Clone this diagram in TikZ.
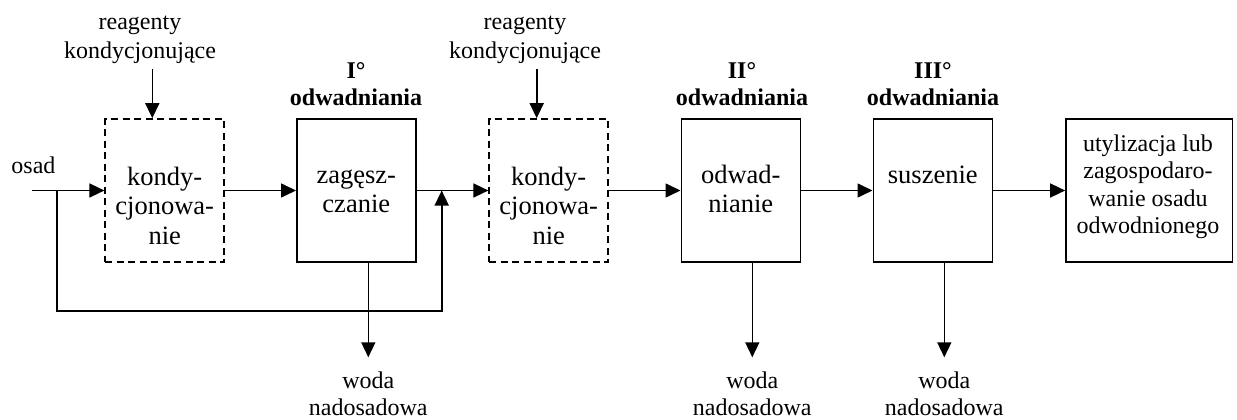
\documentclass[tikz,border=0pt]{standalone}
\usepackage{fontspec}
\setmainfont{Liberation Serif}
\usetikzlibrary{arrows.meta}
\begin{document}
\begin{tikzpicture}[x=1pt,y=-1pt,
  line width=1.6pt,
  flow/.style={-{Triangle[length=15pt,width=14pt]}},
  stage/.style={draw, minimum width=119pt, minimum height=143pt, inner sep=0pt},
  prep/.style={stage, dash pattern=on 7pt off 4.5pt},
  % multi-line nodes below are placed by the baseline of their last line
  big/.style={font=\fontsize{26.5}{29.5}\selectfont, align=center, anchor=base, inner sep=0pt},
  small/.style={font=\fontsize{24}{28}\selectfont, align=center, anchor=base, inner sep=0pt},
  head/.style={small, font=\fontsize{24}{27}\selectfont\bfseries}
]
\useasboundingbox (0,0) rectangle (1237,420);

% process stages
\node[prep]  (k1) at (164.7,190.5) {};
\node[stage] (z)  at (356.3,190.5) {};
\node[prep]  (k2) at (548.7,190.5) {};
\node[stage] (o)  at (740.8,190.5) {};
\node[stage] (s)  at (932.8,190.5) {};
\node[stage, minimum width=166.5pt] (u) at (1149.2,190.5) {};

% texts inside the stages
\node[big] (k1t) at (164.7,244) {kondy-\\cjonowa-\\nie};
\node[big] (zt)  at (356.3,212.5) {zagęsz-\\czanie};
\node[big] (k2t) at (548.7,244) {kondy-\\cjonowa-\\nie};
\node[big] (ot)  at (740.8,212.5) {odwad-\\nianie};
\node[big] (st)  at (932.8,183) {suszenie};
\node[small, font=\fontsize{24}{27.5}\selectfont] (ut) at (1148,233.5)
  {utylizacja lub\\zagospodaro-\\wanie osadu\\odwodnionego};

% stage headings
\node[head] (h1) at (356,105.3) {I°\\odwadniania};
\node[head] (h2) at (742,105.3) {II°\\odwadniania};
\node[head] (h3) at (933,105.3) {III°\\odwadniania};

% reagents
\node[small, font=\fontsize{24}{29}\selectfont] (r1) at (140,58.3) {reagenty\\kondycjonujące};
\node[small, font=\fontsize{24}{29}\selectfont] (r2) at (525,58.3) {reagenty\\kondycjonujące};
\coordinate (r1a) at (152.3,69);
\coordinate (r2a) at (536.7,69);
\draw[flow] (r1a) -- (r1a |- k1.north);
\draw[flow] (r2a) -- (r2a |- k2.north);

% sludge inlet
\node[small, anchor=base west] (osad) at (10.7,173) {osad};
\coordinate (in) at (31.7,190.5);
\coordinate (split) at (56.7,190.5);
\coordinate (join) at (441.7,190.5);

% main flow
\draw[flow] (in) -- (k1.west);
\draw[flow] (k1.east) -- (z.west);
\draw[flow] (z.east) -- (k2.west);
\draw[flow] (k2.east) -- (o.west);
\draw[flow] (o.east) -- (s.west);
\draw[flow] (s.east) -- (u.west);

% bypass of the first stages
\draw[flow] (split) -- (56.7,310.7) -- (441.7,310.7) -- (join);

% supernatant outlets
\coordinate (w1a) at (368.3,262);
\coordinate (w2a) at (752.3,262);
\coordinate (w3a) at (944.3,262);
\draw[flow] (w1a |- z.south) -- (368.3,357.3);
\draw[flow] (w2a |- o.south) -- (752.3,357.3);
\draw[flow] (w3a |- s.south) -- (944.3,357.3);
\node[small, font=\fontsize{24}{27}\selectfont] (w1) at (368.3,415.5) {woda\\nadosadowa};
\node[small, font=\fontsize{24}{27}\selectfont] (w2) at (752.3,415.5) {woda\\nadosadowa};
\node[small, font=\fontsize{24}{27}\selectfont] (w3) at (944.3,415.5) {woda\\nadosadowa};
\end{tikzpicture}
\end{document}
